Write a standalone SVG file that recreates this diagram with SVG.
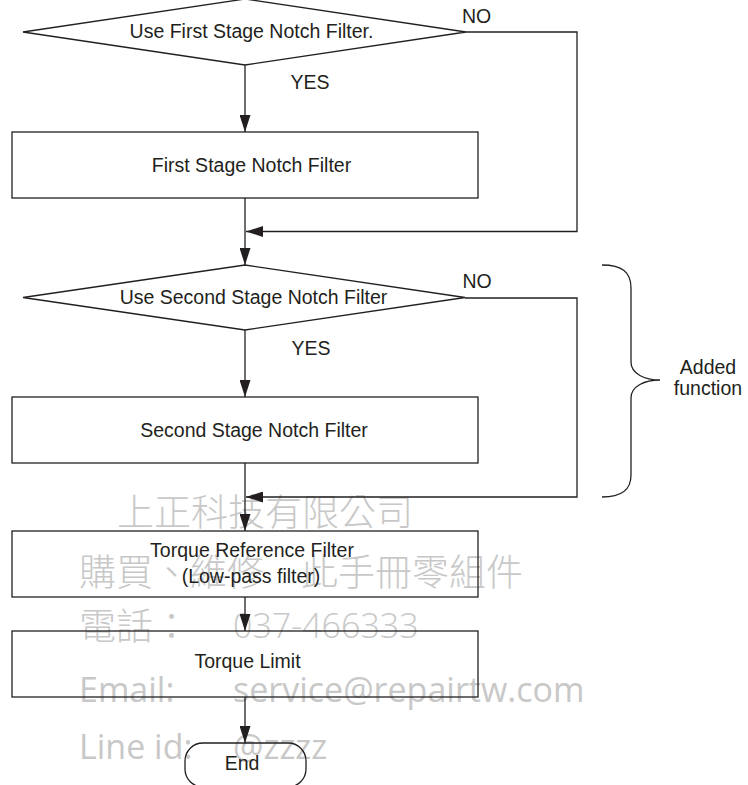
<svg xmlns="http://www.w3.org/2000/svg" width="748" height="785" viewBox="0 0 748 785">
  <style>
    .shape { fill: none; stroke: #231f20; stroke-width: 1.3; }
    .conn { fill: none; stroke: #231f20; stroke-width: 1.3; }
    .lbl { font-family: "Liberation Sans", Arial, sans-serif; font-size: 19.5px; fill: #231f20; text-anchor: middle; }
    .wm-cjk { font-family: "Noto Sans CJK TC", "Noto Sans CJK SC", sans-serif; font-size: 37px; fill: #c8c8c8; font-weight: 300; }
    .wm-lat { font-family: "Open Sans", "Noto Sans", sans-serif; font-size: 34px; fill: #c8c8c8; }
  </style>
  <defs>
    <marker id="arrow" markerUnits="userSpaceOnUse" markerWidth="17" markerHeight="11" refX="17" refY="5.5" orient="auto">
      <path d="M0,0 L17,5.5 L0,11 Z" fill="#231f20"/>
    </marker>
  </defs>
  <rect width="748" height="785" fill="#ffffff"/>

  <!-- watermark -->
  <g id="watermark">
    <text class="wm-cjk" x="117" y="526">上正科技有限公司</text>
    <text class="wm-cjk" x="79" y="586">購買、維修 <tspan x="301">此手冊零組件</tspan></text>
    <text class="wm-cjk" x="79" y="640">電話：<tspan class="wm-lat" x="233" y="638">037-466333</tspan></text>
    <text class="wm-lat" x="79" y="701.5">Email:<tspan x="233">service@repairtw.com</tspan></text>
    <text class="wm-lat" x="79" y="759">Line id:<tspan x="233">@zzzz</tspan></text>
  </g>

  <!-- connectors -->
  <g id="connectors">
    <line class="conn" x1="245" y1="65" x2="245" y2="132" marker-end="url(#arrow)"/>
    <polyline class="conn" points="466,32 577,32 577,231.5 246,231.5" marker-end="url(#arrow)"/>
    <line class="conn" x1="245" y1="198" x2="245" y2="265" marker-end="url(#arrow)"/>
    <line class="conn" x1="245" y1="330" x2="245" y2="397" marker-end="url(#arrow)"/>
    <polyline class="conn" points="465,298 577,298 577,497 246,497" marker-end="url(#arrow)"/>
    <line class="conn" x1="245" y1="463" x2="245" y2="531" marker-end="url(#arrow)"/>
    <line class="conn" x1="245" y1="597" x2="245" y2="631" marker-end="url(#arrow)"/>
    <line class="conn" x1="245" y1="697" x2="245" y2="743" marker-end="url(#arrow)"/>
    <text class="lbl" x="476.5" y="23">NO</text>
    <text class="lbl" x="310" y="89">YES</text>
    <text class="lbl" x="477" y="288">NO</text>
    <text class="lbl" x="311" y="354.5">YES</text>
  </g>

  <g id="decision1">
    <polygon class="shape" points="23,32 245,-1 466,32 245,65"/>
    <text class="lbl" x="251.5" y="37.5">Use First Stage Notch Filter.</text>
  </g>

  <g id="process1">
    <rect class="shape" x="12" y="132" width="466" height="66"/>
    <text class="lbl" x="251.5" y="172">First Stage Notch Filter</text>
  </g>

  <g id="decision2">
    <polygon class="shape" points="23,297.5 245,265 465,297.5 245,330"/>
    <text class="lbl" x="253.5" y="304.3">Use Second Stage Notch Filter</text>
  </g>

  <g id="process2">
    <rect class="shape" x="12" y="397" width="466" height="66"/>
    <text class="lbl" x="254" y="437">Second Stage Notch Filter</text>
  </g>

  <g id="process3">
    <rect class="shape" x="12" y="531" width="466" height="66"/>
    <text class="lbl" x="252" y="557">Torque Reference Filter</text>
    <text class="lbl" x="251" y="583">(Low-pass filter)</text>
  </g>

  <g id="process4">
    <rect class="shape" x="12" y="631" width="466" height="66"/>
    <text class="lbl" x="247.5" y="668.3">Torque Limit</text>
  </g>

  <g id="end">
    <rect class="shape" x="185" y="743" width="121" height="44" rx="18" ry="18"/>
    <text class="lbl" x="242" y="770">End</text>
  </g>

  <g id="brace">
    <path class="shape" d="M602,265 C622,265 631,272 631,288 L631,362 C631,374 645,380 660,380 C645,380 631,386 631,398 L631,475 C631,490 622,497 602,497"/>
    <text class="lbl" x="708" y="374">Added</text>
    <text class="lbl" x="708" y="395">function</text>
  </g>
</svg>
